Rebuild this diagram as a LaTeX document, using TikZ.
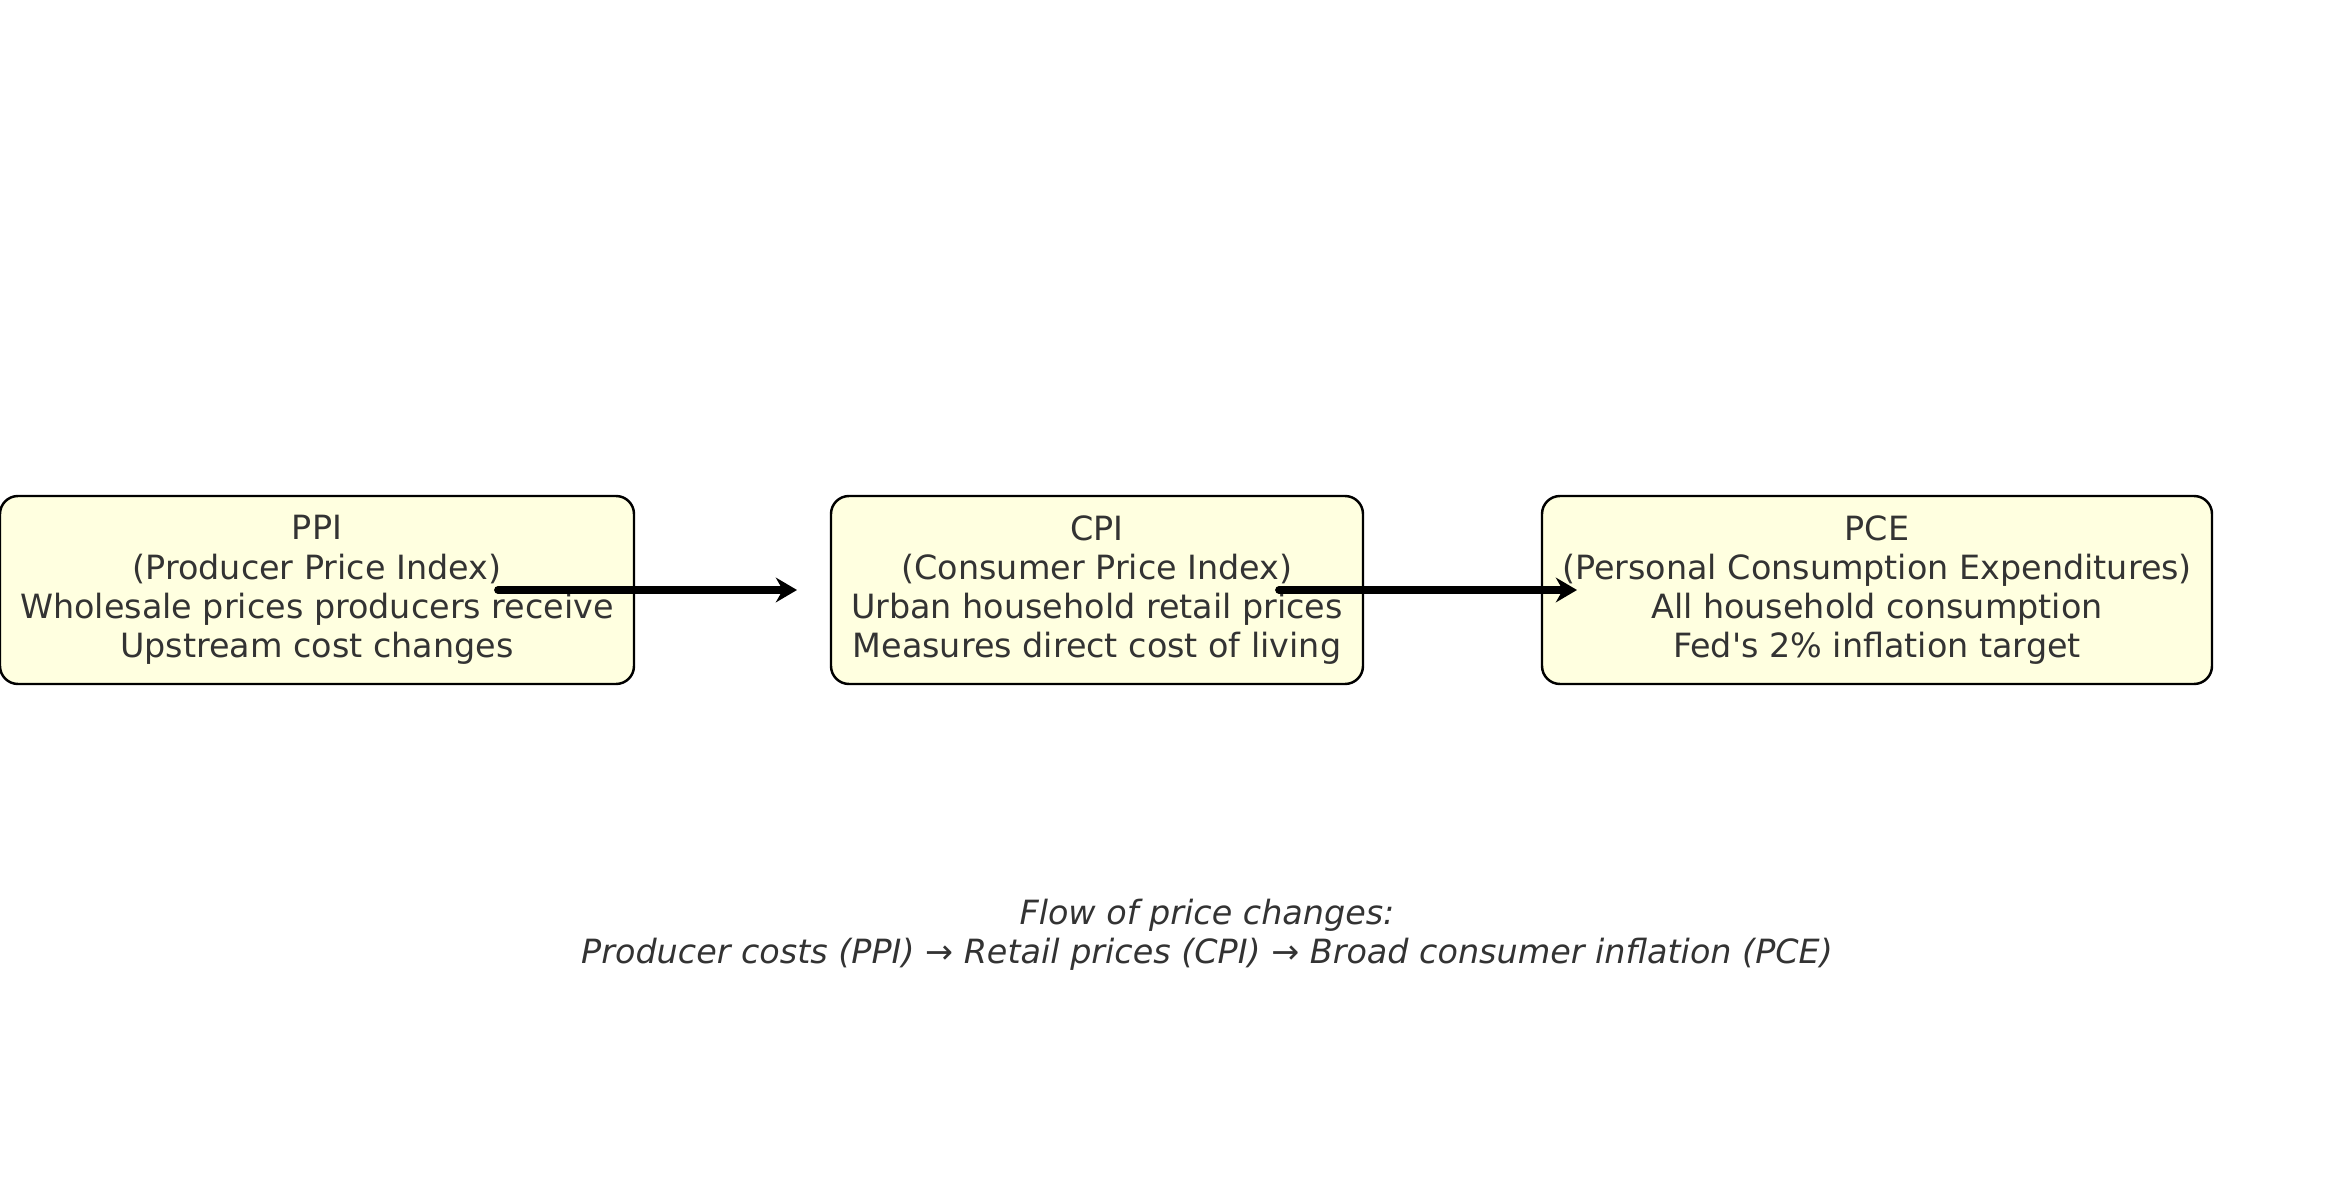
\documentclass[tikz,border=0pt]{standalone}
\usepackage{fontspec}
\setmainfont{DejaVu Sans}
\usetikzlibrary{arrows.meta,calc}
\definecolor{boxfill}{HTML}{FFFFE0}
\definecolor{txtgray}{HTML}{333333}
\begin{document}
\begin{tikzpicture}[
    idxbox/.style={draw, rounded corners=0.18cm, fill=boxfill, line width=0.7pt, minimum height=1.88cm, align=center, text=txtgray, inner sep=0pt, font=\fontsize{9.5}{11.15}\selectfont},
    flow/.style={line width=2.2pt, line cap=round, -{Stealth[length=6pt, width=7pt]}}]
    \useasboundingbox (0,0) rectangle (23.43,11.8);
    % Three index boxes
    \node[idxbox, minimum width=6.34cm] (ppi) at (3.17,5.9) {PPI\\(Producer Price Index)\\Wholesale prices producers receive\\Upstream cost changes};
    \node[idxbox, minimum width=5.32cm] (cpi) at (10.97,5.9) {CPI\\(Consumer Price Index)\\Urban household retail prices\\Measures direct cost of living};
    \node[idxbox, minimum width=6.70cm] (pce) at (18.77,5.9) {PCE\\(Personal Consumption Expenditures)\\All household consumption\\Fed\textquotesingle s 2\% inflation target};

    % Arrows
    \coordinate (ppiout) at ($(ppi.center)+(1.81,0)$);
    \coordinate (cpiin) at ($(cpi.center)+(-3.0,0)$);
    \coordinate (cpiout) at ($(cpi.center)+(1.82,0)$);
    \coordinate (pcein) at ($(pce.center)+(-3.0,0)$);
    \draw[flow] (ppiout) -- (cpiin);
    \draw[flow] (cpiout) -- (pcein);

    % Caption
    \node[align=center, text=txtgray, font=\fontsize{9.5}{11.15}\selectfont\itshape] (flowcap) at (12.07,2.45) {Flow of price changes:\\Producer costs (PPI) → Retail prices (CPI) → Broad consumer inflation (PCE)};
\end{tikzpicture}
\end{document}
